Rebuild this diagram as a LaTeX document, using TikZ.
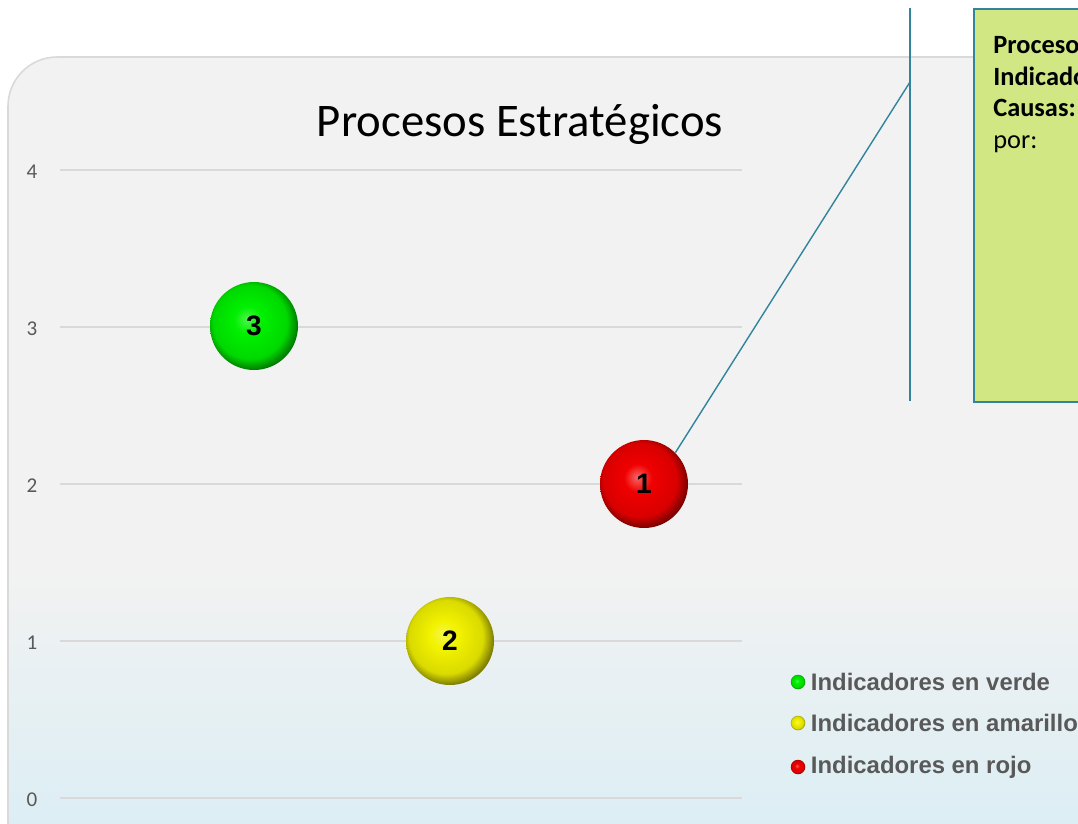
\documentclass[tikz,border=0pt]{standalone}
\usepackage{fontspec}
\setmainfont{Carlito}
\newfontfamily\arialfont{Liberation Sans}
\usetikzlibrary{positioning}
\definecolor{chartgray}{HTML}{F2F2F2}
\definecolor{chartblue}{HTML}{DCEEF4}
\definecolor{framegray}{HTML}{D9D9D9}
\definecolor{gridgray}{HTML}{D9D9D9}
\definecolor{ticktext}{HTML}{595959}
\definecolor{calloutteal}{HTML}{31849B}
\definecolor{notegreen}{HTML}{D0E784}
\definecolor{legendgray}{HTML}{595959}
\definecolor{verdeball}{HTML}{00F000}
\definecolor{amarilloball}{HTML}{F2F200}
\definecolor{rojoball}{HTML}{F00000}

% glossy sphere shadings
\pgfdeclareradialshading{verdeshade}{\pgfpoint{-4bp}{4bp}}{%
    color(0bp)=(verdeball!70!white); color(8bp)=(verdeball);
    color(21bp)=(verdeball!90!black); color(27bp)=(verdeball!50!black);
    color(30bp)=(verdeball!40!black); color(50bp)=(verdeball!40!black)}
\pgfdeclareradialshading{amarilloshade}{\pgfpoint{-4bp}{4bp}}{%
    color(0bp)=(amarilloball!70!white); color(8bp)=(amarilloball);
    color(21bp)=(amarilloball!90!black); color(27bp)=(amarilloball!50!black);
    color(30bp)=(amarilloball!40!black); color(50bp)=(amarilloball!40!black)}
\pgfdeclareradialshading{rojoshade}{\pgfpoint{-4bp}{4bp}}{%
    color(0bp)=(rojoball!60!white); color(8bp)=(rojoball);
    color(21bp)=(rojoball!90!black); color(27bp)=(rojoball!50!black);
    color(30bp)=(rojoball!40!black); color(50bp)=(rojoball!40!black)}

\begin{document}
\begin{tikzpicture}[x=0.02cm, y=-0.02cm,
        bubble/.style={circle, minimum size=1.76cm, inner sep=0pt,
            font=\arialfont\bfseries\fontsize{16}{18}\selectfont},
        legendball/.style={circle, minimum size=0.29cm, inner sep=0pt},
        legendtext/.style={anchor=west, inner sep=0pt, text=legendgray,
            font=\arialfont\bfseries\fontsize{13.6}{15}\selectfont},
        tick/.style={text=ticktext, font=\fontsize{12}{14}\selectfont},
        notetext/.style={anchor=north west, align=left, inner sep=0pt,
            font=\fontsize{15}{18}\selectfont},
        callout/.style={draw=calloutteal, line width=0.8pt}
    ]
        \useasboundingbox (0,0) rectangle (1078,823);
        \clip (0,0) rectangle (1078,823);

        % Chart area
        \fill[chartgray] (8,57) [rounded corners=28] rectangle (1200,900);
        \begin{scope}
            \clip (8,57) [rounded corners=28] rectangle (1200,900);
            \shade[top color=chartgray, bottom color=chartblue] (0,570) rectangle (1200,823);
        \end{scope}
        \draw[framegray, line width=0.9pt] (8,57) [rounded corners=28] rectangle (1200,900);

        % Title
        \node[font=\fontsize{26.6}{30}\selectfont] (title) at (520,124) {Procesos Estratégicos};

        % Grid lines and axis labels
        \foreach \v in {0,...,4} {
            \draw[gridgray, line width=0.8pt] (60,798-157*\v) -- (742,798-157*\v);
            \node[tick] (tick\v) at (32,800-157*\v) {\v};
        }

        % Indicator bubbles
        \node[bubble, shading=verdeshade] (verde) at (254,326) {3};
        \node[bubble, shading=amarilloshade] (amarillo) at (450,641) {2};
        \node[bubble, shading=rojoshade] (rojo) at (644,484) {1};

        % Callout
        \coordinate (elbow) at (910,82);
        \coordinate (bartop) at (910,8);
        \coordinate (barbottom) at (910,401);
        \draw[callout] (rojo.45) -- (elbow);
        \draw[callout] (bartop) -- (barbottom);
        \node[draw=calloutteal, line width=0.9pt, fill=notegreen, anchor=north west,
            minimum width=4cm, minimum height=7.86cm] (note) at (973,8) {};
        \node[notetext] (notetxt) at (993,36)
            {\textbf{Procesos:}\\ \textbf{Indicadores:}\\ \textbf{Causas:}\\ por:};

        % Legend
        \node[legendball, shading=verdeshade] (lgverde) at (798,682) {};
        \node[legendtext, right=5 of lgverde] (ltverde) {Indicadores en verde};
        \node[legendball, shading=amarilloshade] (lgamarillo) at (798,723) {};
        \node[legendtext, right=5 of lgamarillo] (ltamarillo) {Indicadores en amarillo};
        \node[legendball, shading=rojoshade] (lgrojo) at (798,767) {};
        \node[legendtext, right=5 of lgrojo] (ltrojo) {Indicadores en rojo};
    \end{tikzpicture}
\end{document}
